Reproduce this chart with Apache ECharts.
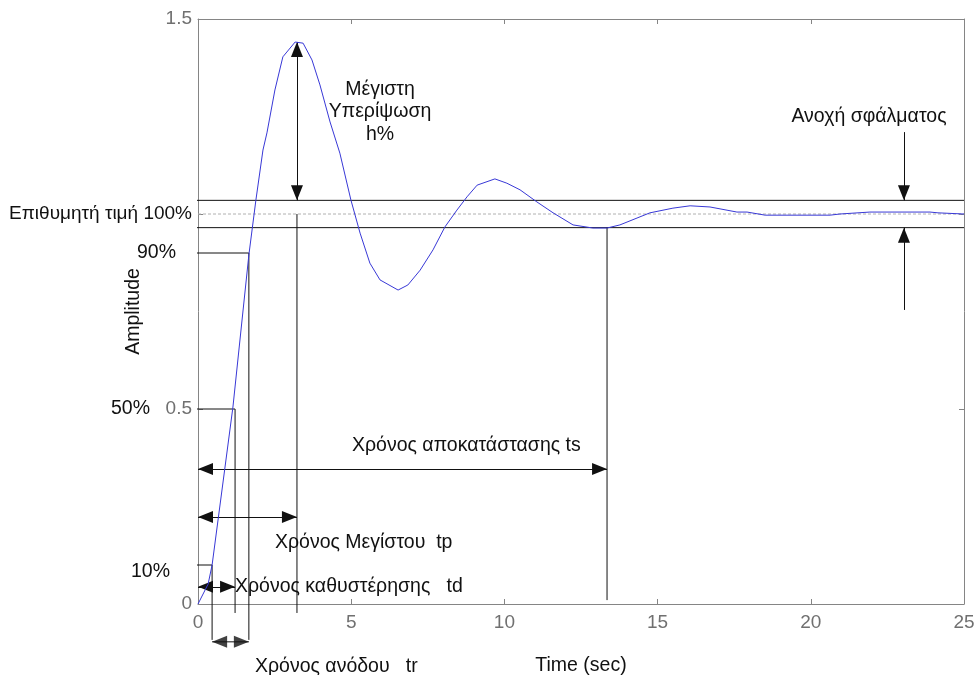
<!DOCTYPE html>
<html>
<head>
<meta charset="utf-8">
<script src="https://cdn.jsdelivr.net/npm/echarts@6/dist/echarts.min.js"></script>
<style>
  html, body { margin: 0; padding: 0; background: #fff; }
  #chart { width: 976px; height: 675px; }
</style>
</head>
<body>
<div id="chart"></div>
<script>
// step response
const timeSec = [0, 0.33, 0.46, 1.14, 1.66, 1.89, 2.12, 2.25, 2.51, 2.77, 3.17, 3.43, 3.72, 3.98, 4.31, 4.63,
  4.99, 5.29, 5.61, 5.94, 6.53, 6.85, 7.25, 7.67, 8.06, 8.45, 8.78, 9.11, 9.69, 10.08, 10.51, 11.06,
  11.59, 12.24, 12.89, 13.35, 13.77, 14.75, 15.5, 16.06, 16.71, 17.59, 17.92, 18.51, 20.63, 20.95,
  21.93, 23.89, 24.15, 25]
const amplitude = [0, 0.051, 0.1, 0.505, 0.895, 1.036, 1.164, 1.208, 1.318, 1.403, 1.441, 1.438, 1.395, 1.331, 1.236, 1.156,
  1.036, 0.951, 0.874, 0.831, 0.805, 0.818, 0.856, 0.908, 0.967, 1.01, 1.044, 1.074, 1.09, 1.079, 1.062, 1.031,
  1.003, 0.972, 0.964, 0.964, 0.972, 1.003, 1.015, 1.021, 1.018, 1.005, 1.005, 0.997, 0.997, 1.0,
  1.005, 1.005, 1.003, 1.0]

const xTicks = [0, 5, 10, 15, 20, 25]
const yTickLabels = ['0', '0.5', '', '1.5']

// characteristic levels and times
const setpoint = 1.0
const tolUpper = 1.035
const tolLower = 0.965
const peakValue = 1.441
const level10 = 0.1, level50 = 0.5, level90 = 0.9
const t10 = 0.46, t50 = 1.21, t90 = 1.66, tPeak = 3.23, tSettle = 13.35
// rows where the time arrows sit
const rowSettle = 0.346, rowPeak = 0.223, rowDelay = 0.044, rowRise = -0.097
const tolArrowX = 23.04, tolArrowTop = 1.21, tolArrowBottom = 0.754
const stubX = -0.16
const dropShort = -0.023

const chart = echarts.init(document.getElementById('chart'))

const FONT = 'Liberation Sans, Arial, sans-serif'
const GREY = '#858585'
const INK = '#111'
const HEAD = [12, 15]

// plain guide segments (some reach past the axes, so drawn as unclipped lines)
const segments = [
  [[stubX, tolUpper], [25, tolUpper]],
  [[stubX, tolLower], [25, tolLower]],
  [[stubX, level90], [t90, level90], [t90, rowRise + 0.005]],
  [[stubX, level50], [t50, level50], [t50, dropShort]],
  [[stubX, level10], [t10, level10], [t10, rowRise + 0.005]],
  [[tPeak, setpoint], [tPeak, dropShort]],
  [[tSettle, tolLower], [tSettle, 0.01]],
  [[t10, rowRise], [t90, rowRise]]
]

const arrowHead = { symbol: 'triangle', symbolSize: HEAD, symbolOffset: [0, '50%'] }
const oneArrow = (a, b) => [{ coord: a, symbol: 'none' }, Object.assign({ coord: b }, arrowHead)]
const twoArrow = (a, b) => [Object.assign({ coord: a }, arrowHead), Object.assign({ coord: b }, arrowHead)]

const arrows = [
  twoArrow([tPeak, tolUpper], [tPeak, peakValue]),
  twoArrow([0, rowSettle], [tSettle, rowSettle]),
  twoArrow([0, rowPeak], [tPeak, rowPeak]),
  twoArrow([0, rowDelay], [t50, rowDelay]),
  oneArrow([tolArrowX, tolArrowTop], [tolArrowX, tolUpper]),
  oneArrow([tolArrowX, tolArrowBottom], [tolArrowX, tolLower])
]

const axisCommon = {
  type: 'value',
  axisLine: { show: true, onZero: false, lineStyle: { color: GREY, width: 1 } },
  axisTick: { show: true, inside: true, length: 5, lineStyle: { color: GREY } },
  splitLine: { show: false }
}

const series = [
  {
    type: 'line',
    data: [[0, setpoint], [25, setpoint]],
    showSymbol: false,
    silent: true,
    lineStyle: { color: '#b0b0b0', width: 1, type: [3, 2] }
  },
  {
    type: 'line',
    data: timeSec.map((t, i) => [t, amplitude[i]]),
    showSymbol: false,
    silent: true,
    lineStyle: { color: '#3838d6', width: 1 },
    z: 5
  }
]

segments.forEach(seg => series.push({
  type: 'line',
  data: seg,
  clip: false,
  showSymbol: false,
  silent: true,
  lineStyle: { color: INK, width: 1 }
}))

// tr arrow heads (below the axis, outside the plot area)
series.push({
  type: 'scatter',
  data: [
    { value: [t10, rowRise], symbolRotate: 90, symbolOffset: [HEAD[1] / 2, 0] },
    { value: [t90, rowRise], symbolRotate: -90, symbolOffset: [-HEAD[1] / 2, 0] }
  ],
  symbol: 'triangle',
  symbolSize: HEAD,
  clip: false,
  silent: true,
  itemStyle: { color: INK }
})

series.push({
  type: 'line',
  data: [],
  silent: true,
  markLine: {
    silent: true,
    animation: false,
    symbol: 'none',
    label: { show: false },
    lineStyle: { color: INK, width: 1, type: 'solid' },
    emphasis: { disabled: true },
    itemStyle: { color: INK },
    data: arrows
  }
})

const option = {
  animation: false,
  backgroundColor: '#fff',
  grid: { left: 198, right: 12, top: 19, bottom: 71, containLabel: false, outerBoundsMode: 'none' },
  xAxis: [
    Object.assign({}, axisCommon, {
      min: 0, max: 25, interval: 5, position: 'bottom',
      name: 'Time (sec)', nameLocation: 'middle', nameGap: 52,
      nameTextStyle: { color: INK, fontSize: 19.5, fontFamily: FONT },
      axisLabel: { color: '#707070', fontSize: 19, fontFamily: FONT, margin: 9,
        formatter: v => xTicks.includes(v) ? String(v) : '' }
    }),
    Object.assign({}, axisCommon, {
      min: 0, max: 25, interval: 5, position: 'top', axisLabel: { show: false }
    })
  ],
  yAxis: [
    Object.assign({}, axisCommon, {
      min: 0, max: 1.5, interval: 0.5, position: 'left',
      name: 'Amplitude', nameLocation: 'middle', nameGap: 54, nameRotate: 90,
      nameTextStyle: { color: INK, fontSize: 19.5, fontFamily: FONT },
      axisLabel: { color: '#707070', fontSize: 19, fontFamily: FONT, margin: 6,
        formatter: v => yTickLabels[Math.round(v / 0.5)] || '' }
    }),
    Object.assign({}, axisCommon, {
      min: 0, max: 1.5, interval: 0.5, position: 'right', axisLabel: { show: false }
    })
  ],
  series
}

chart.setOption(option)

// annotation texts
const txt = (x, y, text, align, size) => ({
  type: 'text', x, y, silent: true,
  style: { text, fill: INK, font: (size || 19.5) + 'px ' + FONT, align: align || 'left', verticalAlign: 'middle', lineHeight: 22.5 }
})
const py = v => chart.convertToPixel({ gridIndex: 0 }, [0, v])[1]

chart.setOption({
  graphic: [
    txt(192, py(setpoint), 'Επιθυμητή τιμή 100%', 'right', 19),
    txt(176, py(level90), '90%', 'right'),
    txt(150, py(level50), '50%', 'right'),
    txt(170, py(level10) + 7, '10%', 'right'),
    txt(380, 112, 'Μέγιστη\nΥπερίψωση\nh%', 'center'),
    txt(869, 117, 'Ανοχή σφάλματος', 'center'),
    txt(352, py(rowSettle) - 23, 'Χρόνος αποκατάστασης ts'),
    txt(275, py(rowPeak) + 26, 'Χρόνος Μεγίστου  tp'),
    txt(235, py(rowDelay), 'Χρόνος καθυστέρησης   td'),
    txt(255, py(rowRise) + 25, 'Χρόνος ανόδου   tr')
  ]
})
</script>
</body>
</html>
